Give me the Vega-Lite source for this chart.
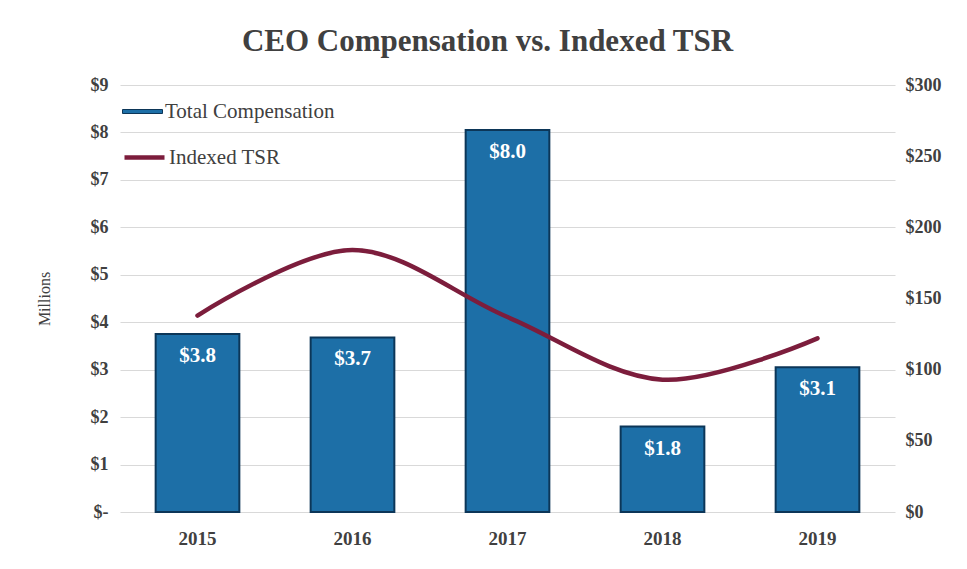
{
  "$schema": "https://vega.github.io/schema/vega-lite/v6.json",
  "autosize": "none",
  "width": 775,
  "height": 427,
  "padding": {"left": 120, "top": 85, "right": 72, "bottom": 57},
  "background": "white",
  "config": {
    "font": "Liberation Serif, Times New Roman, serif",
    "view": {"stroke": null},
    "axis": {"labelFont": "Liberation Serif, Times New Roman, serif", "titleFont": "Liberation Serif, Times New Roman, serif", "labelColor": "#404040", "titleColor": "#404040"}
  },
  "title": {
    "text": "CEO Compensation vs. Indexed TSR",
    "font": "Liberation Serif, Times New Roman, serif",
    "fontSize": 31,
    "fontWeight": "bold",
    "color": "#404040",
    "anchor": "middle",
    "dx": -20,
    "offset": 18
  },
  "data": {
    "values": [
      {"year": "2015", "comp": 3.75, "label": "$3.8", "tsr": 138, "s1": "Total Compensation", "s2": "Indexed TSR"},
      {"year": "2016", "comp": 3.68, "label": "$3.7", "tsr": 184, "s1": "Total Compensation", "s2": "Indexed TSR"},
      {"year": "2017", "comp": 8.05, "label": "$8.0", "tsr": 137, "s1": "Total Compensation", "s2": "Indexed TSR"},
      {"year": "2018", "comp": 1.8, "label": "$1.8", "tsr": 93, "s1": "Total Compensation", "s2": "Indexed TSR"},
      {"year": "2019", "comp": 3.05, "label": "$3.1", "tsr": 122, "s1": "Total Compensation", "s2": "Indexed TSR"}
    ]
  },
  "encoding": {
    "x": {
      "field": "year",
      "type": "nominal",
      "scale": {"paddingInner": 0.46, "paddingOuter": 0.23},
      "axis": {"title": null, "labelAngle": 0, "labelFontSize": 19, "labelFontWeight": "bold", "domain": false, "ticks": false, "labelPadding": 17}
    }
  },
  "layer": [
    {
      "encoding": {
        "y": {
          "field": "comp",
          "type": "quantitative",
          "scale": {"domain": [0, 9]},
          "axis": {
            "title": "Millions",
            "titleFontSize": 16,
            "titleFontWeight": "normal",
            "titlePadding": 38,
            "values": [0, 1, 2, 3, 4, 5, 6, 7, 8, 9],
            "labelExpr": "datum.value == 0 ? '$-' : '$' + datum.value",
            "labelFontSize": 18,
            "labelFontWeight": "bold",
            "labelPadding": 12,
            "labelOverlap": false,
            "domain": false,
            "ticks": false,
            "gridColor": "#d9d9d9",
            "gridWidth": 1.2
          }
        }
      },
      "layer": [
        {
          "mark": {"type": "bar", "stroke": "#0c3658", "strokeWidth": 2},
          "encoding": {
            "fill": {
              "field": "s1",
              "type": "nominal",
              "scale": {"range": ["#1d6fa7"]},
              "legend": {
                "title": null,
                "orient": "none",
                "legendX": 2,
                "legendY": 6,
                "symbolType": "M-1,-0.1H1V0.1H-1Z",
                "symbolSize": 1600,
                "symbolStrokeColor": "#0c3658",
                "symbolStrokeWidth": 1,
                "labelFont": "Liberation Serif, Times New Roman, serif",
                "labelFontSize": 21,
                "labelColor": "#404040",
                "labelOffset": 2,
                "labelLimit": 400
              }
            }
          }
        },
        {
          "mark": {"type": "text", "baseline": "top", "dy": 11, "color": "white", "fontSize": 21, "fontWeight": "bold", "font": "Liberation Serif, Times New Roman, serif"},
          "encoding": {
            "text": {"field": "label"}
          }
        }
      ]
    },
    {
      "mark": {"type": "line", "interpolate": "catmull-rom", "strokeWidth": 4.5, "strokeCap": "round"},
      "encoding": {
        "y": {
          "field": "tsr",
          "type": "quantitative",
          "scale": {"domain": [0, 300]},
          "axis": {
            "orient": "right",
            "title": null,
            "values": [0, 50, 100, 150, 200, 250, 300],
            "labelExpr": "'$' + datum.value",
            "labelFontSize": 18,
            "labelFontWeight": "bold",
            "labelPadding": 10,
            "domain": false,
            "ticks": false,
            "grid": false
          }
        },
        "stroke": {
          "field": "s2",
          "type": "nominal",
          "scale": {"range": ["#7c1d3c"]},
          "legend": {
            "title": null,
            "orient": "none",
            "legendX": 2,
            "legendY": 50,
            "symbolType": "stroke",
            "symbolSize": 1600,
            "symbolStrokeWidth": 4.5,
            "labelFont": "Liberation Serif, Times New Roman, serif",
            "labelFontSize": 21,
            "labelColor": "#404040",
            "labelOffset": 2,
            "labelLimit": 400
          }
        }
      }
    }
  ],
  "resolve": {"scale": {"y": "independent", "fill": "independent", "stroke": "independent"}}
}
